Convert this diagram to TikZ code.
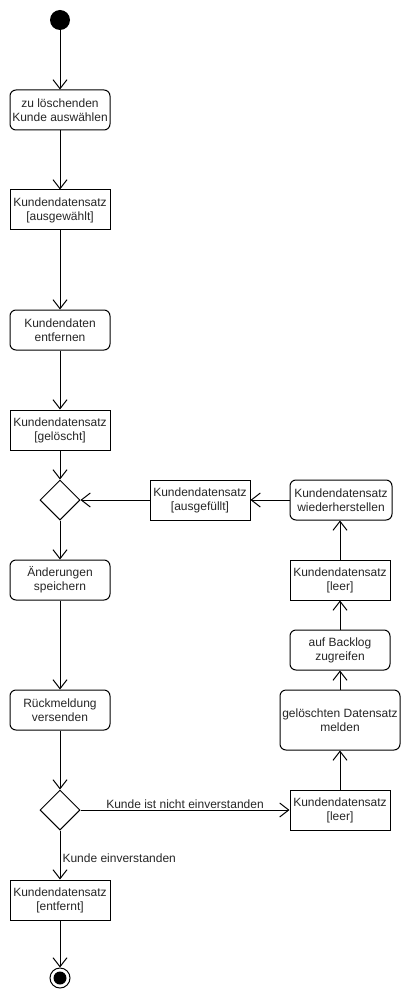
\documentclass[tikz,border=0pt]{standalone}
\usepackage{fontspec}
\setmainfont{Liberation Sans}
\usetikzlibrary{arrows.meta,shapes.geometric}

\begin{document}
\begin{tikzpicture}[x=1pt, y=-1pt, line width=1pt,
  every node/.style={font=\fontsize{12}{14}\selectfont, text=black!85, align=center},
  act/.style={draw, rounded corners=6pt, minimum width=100pt, minimum height=40pt, inner sep=1pt},
  obj/.style={draw, minimum width=100pt, minimum height=40pt, inner sep=1pt},
  dec/.style={draw, diamond, minimum size=40pt, inner sep=0pt},
  flow/.style={-{Straight Barb[length=9pt,width=14pt]}}]
  \useasboundingbox (0,0) rectangle (410,1000);
  % Spalten: links Hauptablauf, rechts Wiederherstellung
  \def\lx{60}
  \def\rx{340}

  % ---- Hauptablauf ----
  \node[circle, fill=black, minimum size=20pt, inner sep=0pt] (start) at (\lx,20) {};
  \node[act] (auswahl) at (\lx,110) {zu löschenden\\Kunde auswählen};
  \node[obj] (ausgew) at (\lx,210) {Kundendatensatz\\[0pt][ausgewählt]};
  \node[act] (entfernen) at (\lx,330) {Kundendaten\\entfernen};
  \node[obj] (geloescht) at (\lx,430) {Kundendatensatz\\[0pt][gelöscht]};
  \node[dec] (merge) at (\lx,500) {};
  \node[act] (speichern) at (\lx,580) {Änderungen\\speichern};
  \node[act] (rueck) at (\lx,710) {Rückmeldung\\versenden};
  \node[dec] (wahl) at (\lx,810) {};
  \node[obj] (entfernt) at (\lx,900) {Kundendatensatz\\[0pt][entfernt]};
  \node[circle, draw, minimum size=20pt, inner sep=0pt] (ende) at (\lx,978) {};
  \fill (ende.center) circle (6.5);

  % ---- Wiederherstellung ----
  \node[obj] (leer1) at (\rx,810) {Kundendatensatz\\[0pt][leer]};
  \node[act, minimum width=120pt, minimum height=60pt] (melden) at (\rx,720) {gelöschten Datensatz\\melden};
  \node[act] (backlog) at (\rx,650) {auf Backlog\\zugreifen};
  \node[obj] (leer2) at (\rx,580) {Kundendatensatz\\[0pt][leer]};
  \node[act, minimum width=102pt] (wieder) at (\rx+1,500) {Kundendatensatz\\wiederherstellen};
  \node[obj] (ausgef) at (200,500) {Kundendatensatz\\[0pt][ausgefüllt]};

  % Kanten
  \draw[flow] (start) -- (auswahl);
  \draw[flow] (auswahl) -- (ausgew);
  \draw[flow] (ausgew) -- (entfernen);
  \draw[flow] (entfernen) -- (geloescht);
  \draw[flow] (geloescht) -- (merge);
  \draw[flow] (merge) -- (speichern);
  \draw[flow] (speichern) -- (rueck);
  \draw[flow] (rueck) -- (wahl);
  \draw[flow] (wahl) -- node[right, pos=0.56, inner sep=2pt] {Kunde einverstanden} (entfernt);
  \draw[flow] (entfernt) -- (ende);
  \draw[flow] (wahl) -- node[above, inner sep=1pt] {Kunde ist nicht einverstanden} (leer1);
  \draw[flow] (leer1) -- (melden);
  \draw[flow] (melden) -- (backlog);
  \draw[flow] (backlog) -- (leer2);
  \draw[flow] (leer2.north) -- (leer2.north |- wieder.south);
  \draw[flow] (wieder) -- (ausgef);
  \draw[flow] (ausgef) -- (merge);
\end{tikzpicture}
\end{document}
